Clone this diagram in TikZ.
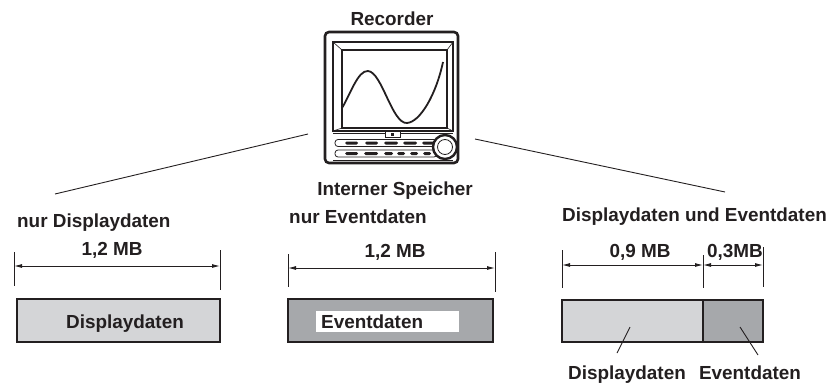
\documentclass[tikz,border=0pt]{standalone}
\usepackage{fontspec}
\setmainfont{Liberation Sans}
\usetikzlibrary{arrows.meta}
\definecolor{ink}{HTML}{231F20}
\definecolor{lightfill}{HTML}{D4D5D7}
\definecolor{darkfill}{HTML}{A6A8AB}
\begin{document}
\begin{tikzpicture}[x=1pt,y=-1pt,
  lbl/.style={font=\fontsize{18.9}{21}\bfseries\selectfont, text=ink, inner sep=0pt, anchor=base},
  membox/.style={draw=ink, line width=1.4pt, inner sep=0pt},
  tick/.style={draw=ink, line width=0.9pt},
  dim/.style={draw=ink, line width=0.9pt, {Latex[length=8pt,width=4pt]}-{Latex[length=8pt,width=4pt]}},
  leader/.style={draw=ink, line width=0.9pt},
  btn/.style={fill=ink, rounded corners=1.5pt}]
\useasboundingbox (0,0) rectangle (829,388);

% ---------- recorder ----------
\node[lbl] (rec) at (392,25) {Recorder};
\draw[ink, line width=2.6pt, rounded corners=4pt] (325,32) rectangle (458,163);
\coordinate (devL) at (308,134);
\coordinate (devR) at (475,139);
% bezel and screen
\draw[ink, line width=1.1pt] (333,42) rectangle (453,131);
\draw[ink, line width=1.8pt] (342,50) rectangle (447,128);
\draw[ink, line width=0.6pt] (333,42) -- (342,50) (453,42) -- (447,50)
  (333,131) -- (342,128) (453,131) -- (447,128);
% trace on the screen
\draw[ink, line width=1.8pt] (342,108) .. controls (350,95) and (358,70) .. (368,71)
  .. controls (382,72) and (392,124) .. (407,123)
  .. controls (420,122) and (436,95) .. (443,62);
% control panel
\draw[ink, line width=1pt] (333,133) -- (453,133);
\draw[ink, line width=1pt] (333,160) -- (453,160);
\draw[ink, line width=1pt, fill=white] (385,131) rectangle (400,137);
\fill[ink] (391,133) rectangle (394,136);
\draw[ink, line width=0.8pt, rounded corners=3pt] (335,139.5) rectangle (437,146.5);
\draw[ink, line width=0.8pt, rounded corners=3pt] (335,150) rectangle (437,157);
\foreach \a/\b in {345/358,365/378,384/398,403/417,422/435}
  \path[btn] (\a,141.5) rectangle (\b,144.5);
\foreach \a/\b in {345/358,364/378,384/393,397/405,410/418,423/431}
  \path[btn] (\a,152) rectangle (\b,155);
\draw[ink, line width=2.4pt, fill=white] (445,147) circle (12);
\draw[ink, line width=0.8pt] (445,147) circle (7.5);

% ---------- connectors from the recorder ----------
\coordinate (fanL) at (55,194);
\coordinate (fanR) at (725,192);
\draw[leader] (devL) -- (fanL);
\draw[leader] (devR) -- (fanR);

\node[lbl] (speicher) at (395,195) {Interner Speicher};

% ---------- only display data ----------
\node[lbl, anchor=base west] (t1) at (17,227) {nur Displaydaten};
\node[lbl] (s1) at (112,255) {1,2 MB};
\coordinate (a1) at (14,252); \coordinate (a1b) at (14,286);
\coordinate (b1) at (220,250); \coordinate (b1b) at (220,290);
\draw[tick] (a1) -- (a1b);
\draw[tick] (b1) -- (b1b);
\draw[dim] (14,266) -- (220,266);
\node[membox, fill=lightfill, minimum width=203pt, minimum height=43pt] (box1) at (118.5,320.5) {};
\node[lbl] (d1) at (125,328) {Displaydaten};

% ---------- only event data ----------
\node[lbl, anchor=base west] (t2) at (289,223) {nur Eventdaten};
\node[lbl] (s2) at (395,257) {1,2 MB};
\draw[tick] (288,254) -- (288,287);
\draw[tick] (495,252) -- (495,292);
\draw[dim] (288,268) -- (495,268);
\node[membox, fill=darkfill, minimum width=205pt, minimum height=43pt] (box2) at (390.5,320.5) {};
\node[fill=white, minimum width=143pt, minimum height=21pt, inner sep=0pt] (w2) at (387.5,321.5) {};
\node[lbl, anchor=base west] (e2) at (321,328) {Eventdaten};

% ---------- display and event data ----------
\node[lbl, anchor=base west] (t3) at (562,221) {Displaydaten und Eventdaten};
\node[lbl] (s3a) at (640,257) {0,9 MB};
\node[lbl] (s3b) at (735,257) {0,3MB};
\draw[tick] (562,250) -- (562,288);
\draw[tick] (703,255) -- (703,288);
\draw[tick] (763,247) -- (763,287);
\draw[dim] (562,265) -- (703,265);
\draw[dim] (703,265) -- (763,265);
\node[membox, fill=lightfill, minimum width=141pt, minimum height=42pt] (box3a) at (632.5,321) {};
\node[membox, fill=darkfill, minimum width=60pt, minimum height=42pt] (box3b) at (733,321) {};
\node[lbl] (d3) at (627,379) {Displaydaten};
\node[lbl] (e3) at (750,379) {Eventdaten};
\coordinate (p3a) at (630,327); \coordinate (q3a) at (617,353);
\coordinate (p3b) at (740,327); \coordinate (q3b) at (758,355);
\draw[leader] (p3a) -- (q3a);
\draw[leader] (p3b) -- (q3b);
\end{tikzpicture}
\end{document}
